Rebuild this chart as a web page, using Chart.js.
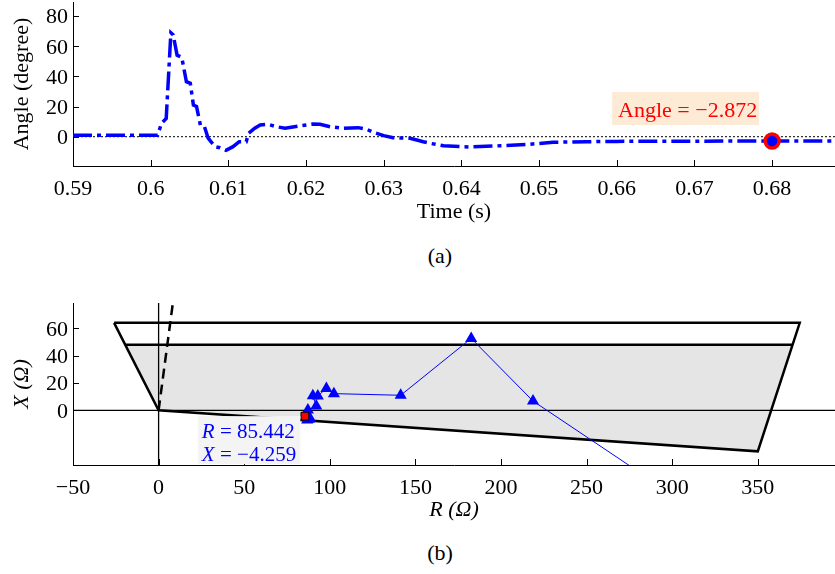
<!DOCTYPE html>
<html>
<head>
<meta charset="utf-8">
<script src="https://cdn.jsdelivr.net/npm/chart.js@4.4.0/dist/chart.umd.min.js"></script>
<style>
  body { margin: 0; background: #fff; }
  #wrap { position: relative; width: 835px; height: 574px; overflow: hidden; }
  canvas { position: absolute; left: 0; }
  .cap { position: absolute; width: 100px; text-align: center; font: 22px "Liberation Serif", "Times New Roman", serif; line-height: 26px; color: #000; }
</style>
</head>
<body>
<div id="wrap">
  <canvas id="angleChart" width="835" height="230" style="top:0"></canvas>
  <div class="cap" style="left:390px; top:243px">(a)</div>
  <canvas id="zoneChart" width="835" height="245" style="top:285px"></canvas>
  <div class="cap" style="left:390px; top:540px">(b)</div>
</div>
<script>
const FONT = "'Liberation Serif', 'Times New Roman', serif";

// (a) angle vs time
const timeS = [0.5900, 0.6009, 0.6014, 0.6020, 0.6026, 0.6029, 0.6034, 0.6040, 0.6046, 0.6051,
  0.6055, 0.6059, 0.6064, 0.6069, 0.6074, 0.6083, 0.6089, 0.6097, 0.6106, 0.6114,
  0.6123, 0.6126, 0.6134, 0.6141, 0.6151, 0.6162, 0.6173, 0.6194, 0.6209, 0.6218,
  0.6231, 0.6248, 0.6267, 0.6278, 0.6287, 0.6300, 0.6312, 0.6334, 0.6351, 0.6360,
  0.6377, 0.6411, 0.6450, 0.6488, 0.6518, 0.6561, 0.6600, 0.6650, 0.6700, 0.6750,
  0.6800, 0.6850, 0.6890];
const angleDeg = [1.0, 1.0, 8.9, 12.0, 68.8, 67.4, 54.0, 52.6, 36.4, 35.4,
  21.0, 20.0, 7.7, 7.0, -1.0, -6.6, -7.3, -9.0, -6.6, -3.3,
  -3.3, 2.2, 5.6, 7.7, 8.2, 6.6, 5.6, 7.3, 8.4, 8.2,
  6.6, 5.6, 6.0, 4.9, 2.9, 0.7, -0.7, -1.0, -3.3, -4.4,
  -6.0, -6.8, -6.0, -5.0, -3.7, -3.3, -3.1, -3.0, -3.0, -2.9,
  -2.872, -2.9, -2.9];
const timeTicks = [0.59, 0.60, 0.61, 0.62, 0.63, 0.64, 0.65, 0.66, 0.67, 0.68];
const angleTicks = [0, 20, 40, 60, 80];
const tipTime = 0.68;
const tipAngle = -2.872;

// (b) impedance plane
const outerR = [-26, 374.5, 350, 0, -26];
const outerX = [64, 64, -30, 0, 64];
const innerR = [-19.5, 370.3, 350, 0, -19.5];
const innerX = [48, 48, -30, 0, 48];
const blinderR = [0, 8.5];
const blinderX = [0, 80];
const trajR = [290, 218.7, 182.6, 141.4, 102.4, 98.0, 93.0, 90.1, 92.1, 87.2, 88.5, 86.8, 87.8];
const trajX = [-53, 6.8, 52.6, 11.0, 12.2, 16.0, 10.5, 10.7, 3.1, 0.2, -6.0, -7.0, -6.5];
const tipR = 85.442;
const tipX = -4.259;
const rTicks = [-50, 0, 50, 100, 150, 200, 250, 300, 350];
const xTicks = [0, 20, 40, 60];

const pts = (a, b) => a.map((v, i) => ({ x: v, y: b[i] }));
const minus = v => (v < 0 ? "\u2212" + (-v) : String(v));

// matlab style: ticks point into the plot, labels drawn here
function inTicks(fmtX) {
  return {
    id: "inTicks",
    afterDraw(chart) {
      const { ctx, scales: { x, y } } = chart;
      ctx.save();
      ctx.strokeStyle = "#000";
      ctx.lineWidth = 1;
      ctx.beginPath();
      x.ticks.forEach(t => {
        const p = Math.round(x.getPixelForValue(t.value)) + 0.5;
        ctx.moveTo(p, x.top); ctx.lineTo(p, x.top - 6);
      });
      y.ticks.forEach(t => {
        const p = Math.round(y.getPixelForValue(t.value)) + 0.5;
        ctx.moveTo(y.right, p); ctx.lineTo(y.right + 6, p);
      });
      ctx.stroke();
      ctx.fillStyle = "#000";
      ctx.font = "22px " + FONT;
      ctx.textBaseline = "alphabetic";
      ctx.textAlign = "center";
      x.ticks.forEach(t => ctx.fillText(fmtX(t.value), x.getPixelForValue(t.value), x.top + 29));
      ctx.textAlign = "right";
      y.ticks.forEach(t => ctx.fillText(minus(t.value), y.right - 5, y.getPixelForValue(t.value) + 7.5));
      ctx.restore();
    }
  };
}

function axisX(min, max, ticks, title, italic, height, padBottom) {
  return {
    type: "linear", min: min, max: max,
    afterBuildTicks: s => { s.ticks = ticks.map(v => ({ value: v })); },
    afterFit: s => { s.height = height; },
    grid: { drawOnChartArea: false, drawTicks: false },
    border: { color: "#000", width: 1 },
    ticks: { display: false },
    title: { display: true, text: title, color: "#000",
      font: { family: FONT, size: 22, style: italic ? "italic" : "normal" },
      padding: { top: 0, bottom: padBottom } }
  };
}

function axisY(min, max, ticks, title, italic) {
  return {
    type: "linear", min: min, max: max,
    afterBuildTicks: s => { s.ticks = ticks.map(v => ({ value: v })); },
    afterFit: s => { s.width = 73; },
    grid: { drawOnChartArea: false, drawTicks: false },
    border: { color: "#000", width: 1 },
    ticks: { display: false },
    title: { display: true, text: title, color: "#000",
      font: { family: FONT, size: 22, style: italic ? "italic" : "normal" },
      padding: { top: 9, bottom: 0 } }
  };
}

const angleTip = {
  id: "angleTip",
  afterDraw(chart) {
    const { ctx, scales: { x, y } } = chart;
    const px = x.getPixelForValue(tipTime), py = y.getPixelForValue(tipAngle);
    const bx = px - 160, by = py - 49;
    ctx.save();
    ctx.fillStyle = "#fdebd6";
    ctx.fillRect(bx, by, 147, 33);
    ctx.fillStyle = "#ff0000";
    ctx.font = "22px " + FONT;
    ctx.textBaseline = "alphabetic";
    ctx.fillText("Angle = \u2212" + Math.abs(tipAngle).toFixed(3), bx + 6, by + 25);
    ctx.restore();
  }
};

new Chart(document.getElementById("angleChart"), {
  type: "scatter",
  data: {
    datasets: [
      {
        data: [{ x: tipTime, y: tipAngle }],
        pointRadius: 7, pointBackgroundColor: "#0000ff",
        pointBorderColor: "#ff0000", pointBorderWidth: 3.5, order: 0
      },
      {
        data: pts(timeS, angleDeg), showLine: true, borderColor: "#0000ff",
        borderWidth: 3.5, borderDash: [19, 5, 4, 5], pointRadius: 0, tension: 0, order: 1
      },
      {
        data: [{ x: 0.59, y: 0 }, { x: 0.6881, y: 0 }], showLine: true,
        borderColor: "#000", borderWidth: 1, borderDash: [2, 2], pointRadius: 0, order: 2
      }
    ]
  },
  options: {
    responsive: false, animation: false, events: [], devicePixelRatio: 1,
    layout: { autoPadding: false, padding: { top: 2, right: 0, bottom: 0, left: 0 } },
    plugins: { legend: { display: false }, tooltip: { enabled: false } },
    scales: {
      x: axisX(0.59, 0.6881, timeTicks, "Time (s)", false, 64, 5),
      y: axisY(-19.4, 89.2, angleTicks, "Angle (degree)", false)
    }
  },
  plugins: [inTicks(v => String(+v.toFixed(2))), angleTip]
});

const zoneTip = {
  id: "zoneTip",
  afterDraw(chart) {
    const { ctx, scales: { x, y } } = chart;
    const px = x.getPixelForValue(tipR), py = y.getPixelForValue(tipX);
    const bx = px - 107, by = py;
    ctx.save();
    ctx.fillStyle = "#f4f4f4";
    ctx.fillRect(bx, by, 102.5, 48);
    ctx.fillStyle = "#0000ff";
    ctx.textBaseline = "alphabetic";
    const line = (name, val, yy) => {
      ctx.font = "italic 21px " + FONT;
      ctx.fillText(name, bx + 4, yy);
      const w = ctx.measureText(name).width;
      ctx.font = "21px " + FONT;
      ctx.fillText(" = " + val, bx + 4 + w, yy);
    };
    line("R", tipR.toFixed(3), by + 22);
    line("X", "\u2212" + Math.abs(tipX).toFixed(3), by + 44.5);
    ctx.restore();
  }
};

new Chart(document.getElementById("zoneChart"), {
  type: "scatter",
  data: {
    datasets: [
      {
        data: [{ x: tipR, y: tipX }], pointStyle: "rect", pointRadius: 5.5,
        pointBackgroundColor: "#ff0000", pointBorderColor: "#000", pointBorderWidth: 1, order: 0
      },
      {
        data: pts(trajR, trajX), showLine: true, borderColor: "#0000ff", borderWidth: 1,
        pointStyle: "triangle", pointRadius: 7, pointBackgroundColor: "#0000ff",
        pointBorderColor: "#0000ff", pointBorderWidth: 0, order: 1
      },
      {
        data: pts(blinderR, blinderX), showLine: true, borderColor: "#000",
        borderWidth: 2.5, borderDash: [10, 6], pointRadius: 0, order: 2
      },
      {
        data: pts(outerR, outerX), showLine: true, borderColor: "#000",
        borderWidth: 2.5, pointRadius: 0, order: 3
      },
      {
        data: pts(innerR.slice(0, 2), innerX.slice(0, 2)), showLine: true, borderColor: "#000",
        borderWidth: 2.5, pointRadius: 0, order: 3
      },
      {
        data: [{ x: -50, y: 0 }, { x: 395.1, y: 0 }], showLine: true, borderColor: "#000",
        borderWidth: 1.3, pointRadius: 0, order: 4
      },
      {
        data: [{ x: 0, y: -40 }, { x: 0, y: 78.5 }], showLine: true, borderColor: "#000",
        borderWidth: 1.3, pointRadius: 0, order: 4
      },
      {
        data: pts(innerR, innerX), showLine: true, borderWidth: 0, borderColor: "rgba(0,0,0,0)",
        backgroundColor: "#e5e5e5", fill: "shape", pointRadius: 0, order: 5
      }
    ]
  },
  options: {
    responsive: false, animation: false, events: [], devicePixelRatio: 1,
    layout: { autoPadding: false, padding: { top: 18, right: 0, bottom: 0, left: 0 } },
    plugins: { legend: { display: false }, tooltip: { enabled: false } },
    scales: {
      x: axisX(-50, 395.1, rTicks, "R (\u03a9)", true, 65, 7),
      y: axisY(-40, 78.5, xTicks, "X (\u03a9)", true)
    }
  },
  plugins: [inTicks(minus), zoneTip]
});
</script>
</body>
</html>
